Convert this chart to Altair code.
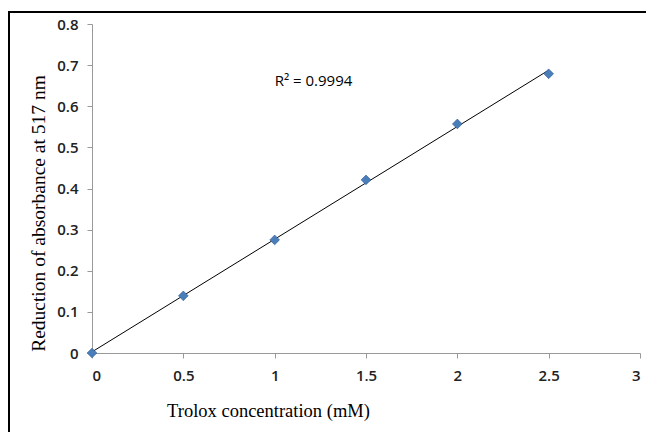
import altair as alt
import pandas as pd

conc = [0, 0.5, 1.0, 1.5, 2.0, 2.5]
absorb = [0.0, 0.139, 0.275, 0.421, 0.557, 0.679]
r2_label = ["R\u00b2 = 0.9994"]
r2_x = [1.0]
r2_y = [0.662]

df = pd.DataFrame({"conc": conc, "absorb": absorb})
lab = pd.DataFrame({"t": r2_label, "x": r2_x, "y": r2_y})

label_font = "Open Sans"
title_font = "Liberation Serif"

xsc = alt.Scale(domain=[0, 3], nice=False, zero=True)
ysc = alt.Scale(domain=[0, 0.8], nice=False)

xaxis = alt.Axis(values=[0, 0.5, 1, 1.5, 2, 2.5, 3], title="Trolox concentration (mM)",
                 format="~g",
                 grid=False, domainColor="#999999", tickColor="#999999", tickSize=5,
                 labelFont=label_font, labelFontSize=15, labelFontWeight=600,
                 labelColor="#222222", labelPadding=10,
                 titleFont=title_font, titleFontSize=18.5, titleFontWeight="normal",
                 titleColor="#000000", titleX=176, titleY=57, titleAnchor="middle",
                 titleBaseline="middle")
yaxis = alt.Axis(values=[0, 0.1, 0.2, 0.3, 0.4, 0.5, 0.6, 0.7, 0.8],
                 title="Reduction of absorbance at 517 nm", format="~g",
                 grid=False, domainColor="#999999", tickColor="#999999", tickSize=5,
                 labelFont=label_font, labelFontSize=15, labelFontWeight=600,
                 labelColor="#222222", labelPadding=9,
                 titleFont=title_font, titleFontSize=19.5, titleFontWeight="normal",
                 titleColor="#000000", titleX=-54, titleY=189, titleAnchor="middle",
                 titleBaseline="middle")

base = alt.Chart(df)

border = alt.Chart(lab).mark_rect(fill=None, stroke="#000000", strokeWidth=2).encode(
    x=alt.value(-83), x2=alt.value(700), y=alt.value(-12), y2=alt.value(600)
)

trend = base.transform_regression("conc", "absorb", extent=[0, 2.5]).mark_line(
    color="#000000", strokeWidth=1
).encode(
    x=alt.X("conc:Q", scale=xsc, axis=xaxis),
    y=alt.Y("absorb:Q", scale=ysc, axis=yaxis),
)

pts = base.mark_point(shape="diamond", filled=True, size=95, color="#4A7EBB",
                      stroke="#2F5D8F", strokeWidth=0.6, opacity=1).encode(
    x=alt.X("conc:Q", scale=xsc),
    y=alt.Y("absorb:Q", scale=ysc),
)

txt = alt.Chart(lab).mark_text(align="left", baseline="middle", font=label_font,
                               fontSize=15, color="#000000").encode(
    x=alt.X("x:Q", scale=xsc), y=alt.Y("y:Q", scale=ysc), text="t:N"
)

chart = alt.layer(border, trend, pts, txt).properties(
    width=548, height=329,
    autosize=alt.AutoSizeParams(type="none"),
    padding={"left": 92, "top": 24, "right": 6, "bottom": 79},
    background="#ffffff",
).configure_view(stroke=None)

chart.save("out.html", embed_options={"renderer": "svg", "actions": False})
